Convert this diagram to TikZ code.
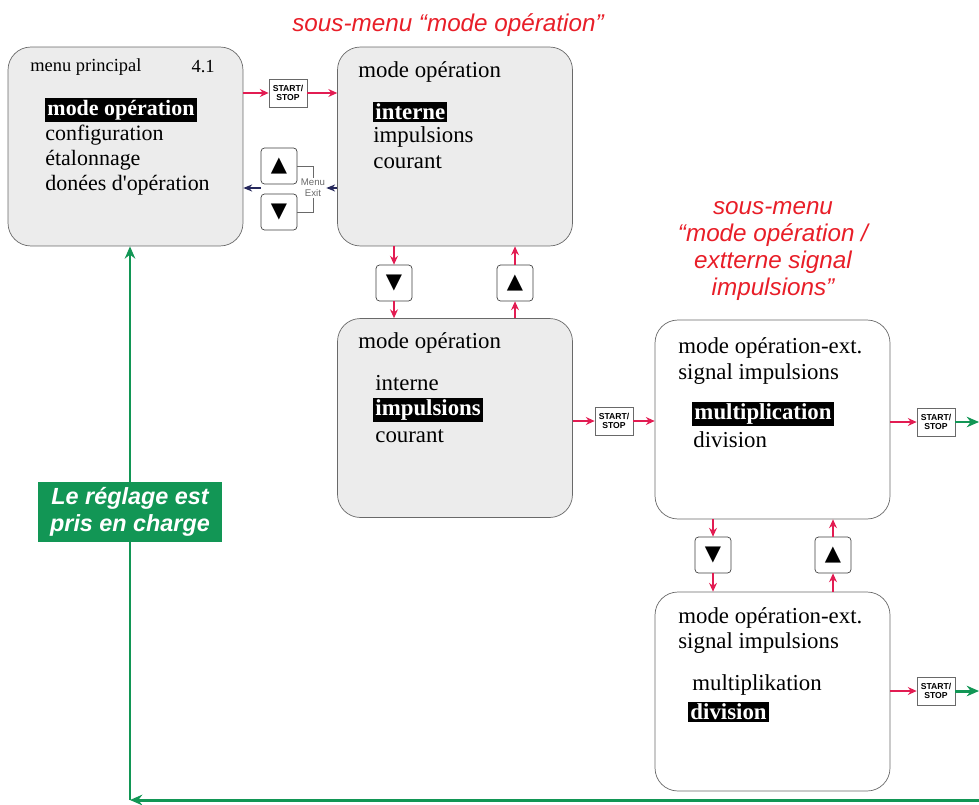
\documentclass[tikz,border=0pt]{standalone}
\usepackage{fontspec}
\setmainfont{Liberation Serif}
\newfontfamily\arialfont{Liberation Sans}
\newfontfamily\symfont{DejaVu Sans}
\usetikzlibrary{positioning,arrows.meta}
\definecolor{Scr}{RGB}{236,236,236}
\definecolor{Frame}{RGB}{105,105,105}
\definecolor{Crim}{RGB}{226,28,82}
\definecolor{Grn}{RGB}{18,150,85}
\definecolor{Ink}{RGB}{38,40,92}
\definecolor{Title}{RGB}{232,30,40}

\begin{document}
\begin{tikzpicture}[x=0.02cm,y=-0.02cm,
 scr/.style={draw=Frame,fill=Scr,rounded corners=13pt,minimum width=4.7cm,minimum height=3.98cm},
 t/.style={anchor=west,inner sep=0pt,font=\fontsize{13}{15}\selectfont},
 hl/.style={t,fill=black,text=white,inner sep=1.2pt,font=\fontsize{13}{15}\selectfont\bfseries},
 ss/.style={draw=Frame,fill=white,minimum width=.76cm,minimum height=.56cm,inner sep=.5pt,align=center,font=\arialfont\bfseries\fontsize{4.9}{5.4}\selectfont},
 kb/.style={draw=Frame!60!black,fill=white,rounded corners=2pt,minimum size=.72cm,inner sep=0pt,font=\symfont\fontsize{12}{12}\selectfont},
 ra/.style={-{Stealth[length=5pt,width=4.5pt]},Crim,line width=1.1pt},
 na/.style={-{Stealth[length=5pt,width=4pt]},Ink,line width=.8pt},
 ga/.style={-{Stealth[length=7pt,width=6pt]},Grn,line width=1.7pt},
 hd/.style={Title,font=\arialfont\itshape\fontsize{13.8}{15.3}\selectfont,align=center}]
\useasboundingbox (0,0) rectangle (979,804);

% screens
\node[scr] (main) at (125.5,146.5) {};
\node[scr] (opa) at (455,146.5) {};
\node[scr] (opb) at (455,418) {};
\node[scr,fill=white] (exa) at (772.5,419.5) {};
\node[scr,fill=white] (exb) at (772.5,691.5) {};

% titles
\node[hd] (h1) at (448,25) {sous-menu “mode opération”};
\node[hd] (h2) at (773,251) {sous-menu\\“mode opération /\\extterne signal\\impulsions”};

% menu principal
\node[t,font=\fontsize{10.5}{12}\selectfont] (m0) at (30,67) {menu principal};
\node[t,anchor=east,font=\fontsize{10.5}{12}\selectfont] (m00) at (215,67) {4.1};
\node[hl,font=\fontsize{12.5}{15}\selectfont\bfseries] (m1) at (45,110) {mode opération};
\node[t,font=\fontsize{12.5}{15}\selectfont] (m2) at (45,135) {configuration};
\node[t,font=\fontsize{12.5}{15}\selectfont] (m3) at (45,160) {étalonnage};
\node[t,font=\fontsize{12.5}{15}\selectfont] (m4) at (45,185) {donées d\textquotesingle opération};

% mode operation
\node[t] (a0) at (358,72) {mode opération};
\node[hl] (a1) at (373,112) {interne};
\node[t] (a2) at (373,137) {impulsions};
\node[t] (a3) at (373,162) {courant};
\node[t] (b0) at (358,343) {mode opération};
\node[t] (b1) at (375,383) {interne};
\node[hl] (b2) at (373,410) {impulsions};
\node[t] (b3) at (375,436) {courant};

% externe
\node[t] (c0) at (678,348) {mode opération-ext.};
\node[t] (c1) at (678,374) {signal impulsions};
\node[hl] (c2) at (692,414) {multiplication};
\node[t] (c3) at (693,440) {division};
\node[t] (d0) at (678,618) {mode opération-ext.};
\node[t] (d1) at (678,643) {signal impulsions};
\node[t] (d2) at (692,685) {multiplikation};
\node[hl] (d3) at (688,712) {division};

% keys
\node[ss] (ss1) at (288,93) {START/\\STOP};
\node[ss] (ss2) at (614,421) {START/\\STOP};
\node[ss] (ss3) at (936,422) {START/\\STOP};
\node[ss] (ss4) at (936,691) {START/\\STOP};
\node[kb] (kup) at (279,166) {▲};
\node[kb] (kdn) at (279,212) {▼};
\node[kb] (kd1) at (394,283) {▼};
\node[kb] (ku1) at (515,283) {▲};
\node[kb] (kd2) at (713,555) {▼};
\node[kb] (ku2) at (833,555) {▲};
\node[align=center,inner sep=.5pt,text=Frame,font=\arialfont\fontsize{5.5}{6.5}\selectfont] (me) at (313,188) {Menu\\Exit};
\draw[Frame,line width=.5pt] (kup.east) -| (me.north);
\draw[Frame,line width=.5pt] (kdn.east) -| (me.south);

% arrows
\draw[ra] (ss1 -| main.east) -- (ss1.west);
\draw[ra] (ss1.east) -- (ss1 -| opa.west);
\draw[na] (me -| opa.west) -- (me.east);
\draw[na] (kup.west |- me) -- (me -| main.east);
\draw[ra] (kd1 |- opa.south) -- (kd1.north);
\draw[ra] (kd1.south) -- (kd1 |- opb.north);
\draw[ra] (ku1 |- opb.north) -- (ku1.south);
\draw[ra] (ku1.north) -- (ku1 |- opa.south);
\draw[ra] (ss2 -| opb.east) -- (ss2.west);
\draw[ra] (ss2.east) -- (ss2 -| exa.west);
\draw[ra] (kd2 |- exa.south) -- (kd2.north);
\draw[ra] (kd2.south) -- (kd2 |- exb.north);
\draw[ra] (ku2 |- exb.north) -- (ku2.south);
\draw[ra] (ku2.north) -- (ku2 |- exa.south);
\draw[ra] (ss3 -| exa.east) -- (ss3.west);
\draw[ra] (ss4 -| exb.east) -- (ss4.west);

% green return
\coordinate (ge) at (979,800);
\coordinate (gc) at (130,800);
\draw[ga] (ss3.east) -- (ss3 -| ge);
\draw[ga] (ss4.east) -- (ss4 -| ge);
\draw[ga] (ge) -- (gc);
\draw[ga] (gc) -- (gc |- main.south);
\node[fill=Grn,text=white,align=center,inner xsep=7pt,inner ysep=3pt,font=\arialfont\bfseries\itshape\fontsize{13.3}{15.5}\selectfont] (ok) at (130,512) {Le réglage est\\pris en charge};
\end{tikzpicture}
\end{document}
